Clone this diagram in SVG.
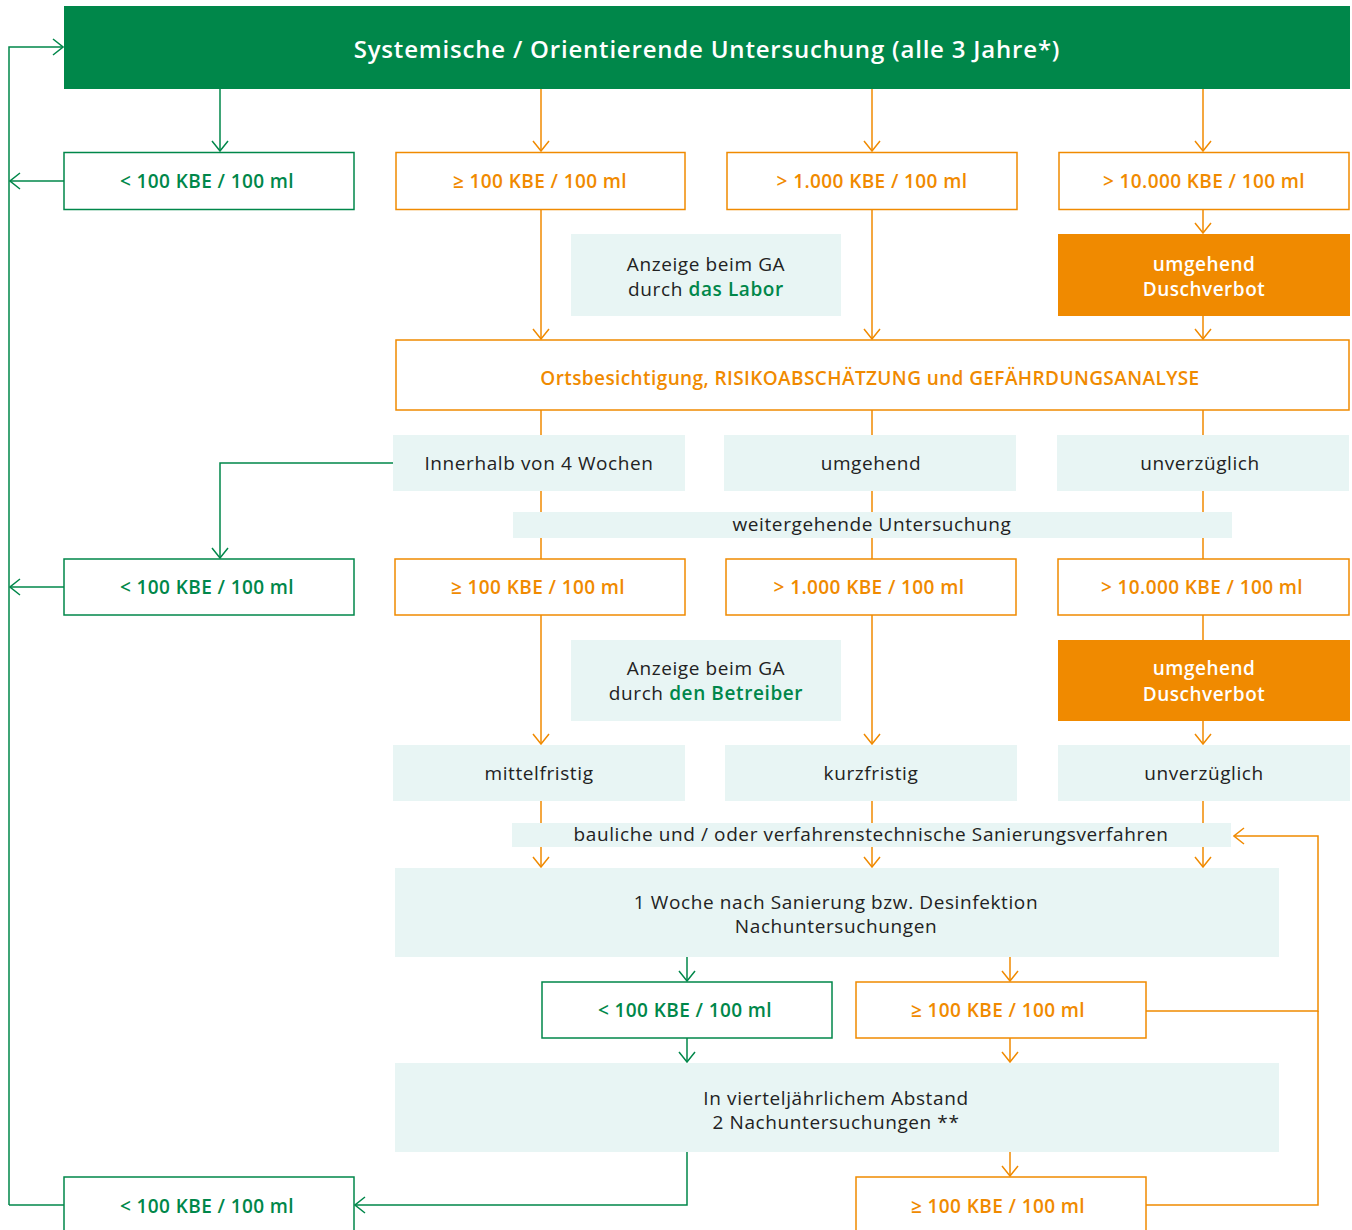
<svg xmlns="http://www.w3.org/2000/svg" width="1352" height="1230" viewBox="0 0 1352 1230">
<style>
text{font-family:"Open Sans","Noto Sans","Liberation Sans",sans-serif;text-anchor:middle;dominant-baseline:central}
.lt{fill:#E8F5F4}
.gb{fill:#fff;stroke:#00874A;stroke-width:1.5}
.ob{fill:#fff;stroke:#F08A00;stroke-width:1.5}
.gt{fill:#00874A;font-size:19px;font-weight:600;letter-spacing:0.4px}
.ot{fill:#F08A00;font-size:19px;font-weight:600;letter-spacing:0.4px}
.bt{fill:#222;font-size:19px;letter-spacing:0.6px}
.wt{fill:#fff;font-size:19px;font-weight:600;letter-spacing:0.5px}
.g{stroke:#00874A;stroke-width:1.5;fill:none}
.o{stroke:#F08A00;stroke-width:1.5;fill:none}
.ga{marker-end:url(#ag)}
.oa{marker-end:url(#ao)}
</style>
<defs>
<marker id="ag" markerWidth="12" markerHeight="18" refX="11" refY="9" orient="auto" markerUnits="userSpaceOnUse"><path d="M1,1 L11,9 L1,17" fill="none" stroke="#00874A" stroke-width="1.5"/></marker>
<marker id="ao" markerWidth="12" markerHeight="18" refX="11" refY="9" orient="auto" markerUnits="userSpaceOnUse"><path d="M1,1 L11,9 L1,17" fill="none" stroke="#F08A00" stroke-width="1.5"/></marker>
</defs>
<g id="connectors">
<path class="g ga" d="M9,1205 V47 H63"/>
<path class="g ga" d="M64,181 H10"/>
<path class="g ga" d="M64,587 H10"/>
<path class="g" d="M64,1205 H9"/>
<path class="g ga" d="M220,89 V151"/>
<path class="o oa" d="M541,89 V151"/>
<path class="o oa" d="M872,89 V151"/>
<path class="o oa" d="M1203,89 V151"/>
<path class="o oa" d="M541,209 V339"/>
<path class="o oa" d="M872,209 V339"/>
<path class="o oa" d="M1203,209 V233"/>
<path class="o oa" d="M1203,316 V339"/>
<path class="o" d="M541,410 V559"/>
<path class="o" d="M872,410 V559"/>
<path class="o" d="M1203,410 V559"/>
<path class="g ga" d="M393,463 H220 V558"/>
<path class="o oa" d="M541,615 V744"/>
<path class="o oa" d="M872,615 V744"/>
<path class="o" d="M1203,615 V640"/>
<path class="o oa" d="M1203,721 V744"/>
<path class="o oa" d="M541,801 V867"/>
<path class="o oa" d="M872,801 V867"/>
<path class="o oa" d="M1203,801 V867"/>
<path class="g ga" d="M687,957 V981"/>
<path class="o oa" d="M1010,957 V981"/>
<path class="g ga" d="M687,1038 V1062"/>
<path class="o oa" d="M1010,1038 V1062"/>
<path class="o oa" d="M1146,1011 H1318 V836 H1234"/>
<path class="o" d="M1318,1011 V1205 H1146"/>
<path class="g ga" d="M687,1152 V1205 H355"/>
<path class="o oa" d="M1010,1152 V1176"/>
</g>
<g id="title"><rect x="64" y="6" width="1286" height="83" fill="#00874A"/><text x="707" y="48" fill="#fff" font-size="24" font-weight="600" letter-spacing="0.8">Systemische / Orientierende Untersuchung (alle 3 Jahre*)</text></g>
<g id="r1a"><rect class="gb" x="64" y="152.5" width="290" height="57"/><text class="gt" x="207" y="181">&lt; 100 KBE / 100 ml</text></g>
<g id="r1b"><rect class="ob" x="396" y="152.5" width="289" height="57"/><text class="ot" x="540" y="181">≥ 100 KBE / 100 ml</text></g>
<g id="r1c"><rect class="ob" x="727" y="152.5" width="290" height="57"/><text class="ot" x="872" y="181">&gt; 1.000 KBE / 100 ml</text></g>
<g id="r1d"><rect class="ob" x="1059" y="152.5" width="290" height="57"/><text class="ot" x="1204" y="181">&gt; 10.000 KBE / 100 ml</text></g>
<g id="anz1"><rect class="lt" x="571" y="234" width="270" height="82"/><text class="bt" x="706" y="263.5">Anzeige beim GA</text><text class="bt" x="706" y="289">durch <tspan fill="#00874A" font-weight="600">das Labor</tspan></text></g>
<g id="dusch1"><rect x="1058" y="234" width="292" height="82" fill="#F08A00"/><text class="wt" x="1204" y="263.5">umgehend</text><text class="wt" x="1204" y="289">Duschverbot</text></g>
<g id="orts"><rect class="ob" x="396" y="340" width="953" height="70"/><text class="ot" x="870" y="378" letter-spacing="0.8">Ortsbesichtigung, RISIKOABSCHÄTZUNG und GEFÄHRDUNGSANALYSE</text></g>
<g id="t1"><rect class="lt" x="393" y="435" width="292" height="56"/><text class="bt" x="539" y="463">Innerhalb von 4 Wochen</text></g>
<g id="t2"><rect class="lt" x="724" y="435" width="292" height="56"/><text class="bt" x="871" y="463">umgehend</text></g>
<g id="t3"><rect class="lt" x="1057" y="435" width="292" height="56"/><text class="bt" x="1200" y="463">unverzüglich</text></g>
<g id="weiter"><rect class="lt" x="513" y="512" width="719" height="26"/><text class="bt" x="872" y="524">weitergehende Untersuchung</text></g>
<g id="r2a"><rect class="gb" x="64" y="559" width="290" height="56"/><text class="gt" x="207" y="587">&lt; 100 KBE / 100 ml</text></g>
<g id="r2b"><rect class="ob" x="395" y="559" width="290" height="56"/><text class="ot" x="538" y="587">≥ 100 KBE / 100 ml</text></g>
<g id="r2c"><rect class="ob" x="726" y="559" width="290" height="56"/><text class="ot" x="869" y="587">&gt; 1.000 KBE / 100 ml</text></g>
<g id="r2d"><rect class="ob" x="1058" y="559" width="291" height="56"/><text class="ot" x="1202" y="587">&gt; 10.000 KBE / 100 ml</text></g>
<g id="anz2"><rect class="lt" x="571" y="640" width="270" height="81"/><text class="bt" x="706" y="667.5">Anzeige beim GA</text><text class="bt" x="706" y="693">durch <tspan fill="#00874A" font-weight="600">den Betreiber</tspan></text></g>
<g id="dusch2"><rect x="1058" y="640" width="292" height="81" fill="#F08A00"/><text class="wt" x="1204" y="668">umgehend</text><text class="wt" x="1204" y="694">Duschverbot</text></g>
<g id="f1"><rect class="lt" x="393" y="745" width="292" height="56"/><text class="bt" x="539" y="773">mittelfristig</text></g>
<g id="f2"><rect class="lt" x="725" y="745" width="292" height="56"/><text class="bt" x="871" y="773">kurzfristig</text></g>
<g id="f3"><rect class="lt" x="1058" y="745" width="292" height="56"/><text class="bt" x="1204" y="773">unverzüglich</text></g>
<g id="sanier"><rect class="lt" x="512" y="823" width="719" height="24"/><text class="bt" x="871" y="834">bauliche und / oder verfahrenstechnische Sanierungsverfahren</text></g>
<g id="woche"><rect class="lt" x="395" y="868" width="884" height="89"/><text class="bt" x="836" y="902">1 Woche nach Sanierung bzw. Desinfektion</text><text class="bt" x="836" y="926">Nachuntersuchungen</text></g>
<g id="r3a"><rect class="gb" x="542" y="982" width="290" height="56"/><text class="gt" x="685" y="1010">&lt; 100 KBE / 100 ml</text></g>
<g id="r3b"><rect class="ob" x="856" y="982" width="290" height="56"/><text class="ot" x="998" y="1010">≥ 100 KBE / 100 ml</text></g>
<g id="viertel"><rect class="lt" x="395" y="1063" width="884" height="89"/><text class="bt" x="836" y="1098">In vierteljährlichem Abstand</text><text class="bt" x="836" y="1122">2 Nachuntersuchungen **</text></g>
<g id="r4a"><rect class="gb" x="64" y="1177" width="290" height="70"/><text class="gt" x="207" y="1206">&lt; 100 KBE / 100 ml</text></g>
<g id="r4b"><rect class="ob" x="856" y="1177" width="290" height="70"/><text class="ot" x="998" y="1206">≥ 100 KBE / 100 ml</text></g>
</svg>
